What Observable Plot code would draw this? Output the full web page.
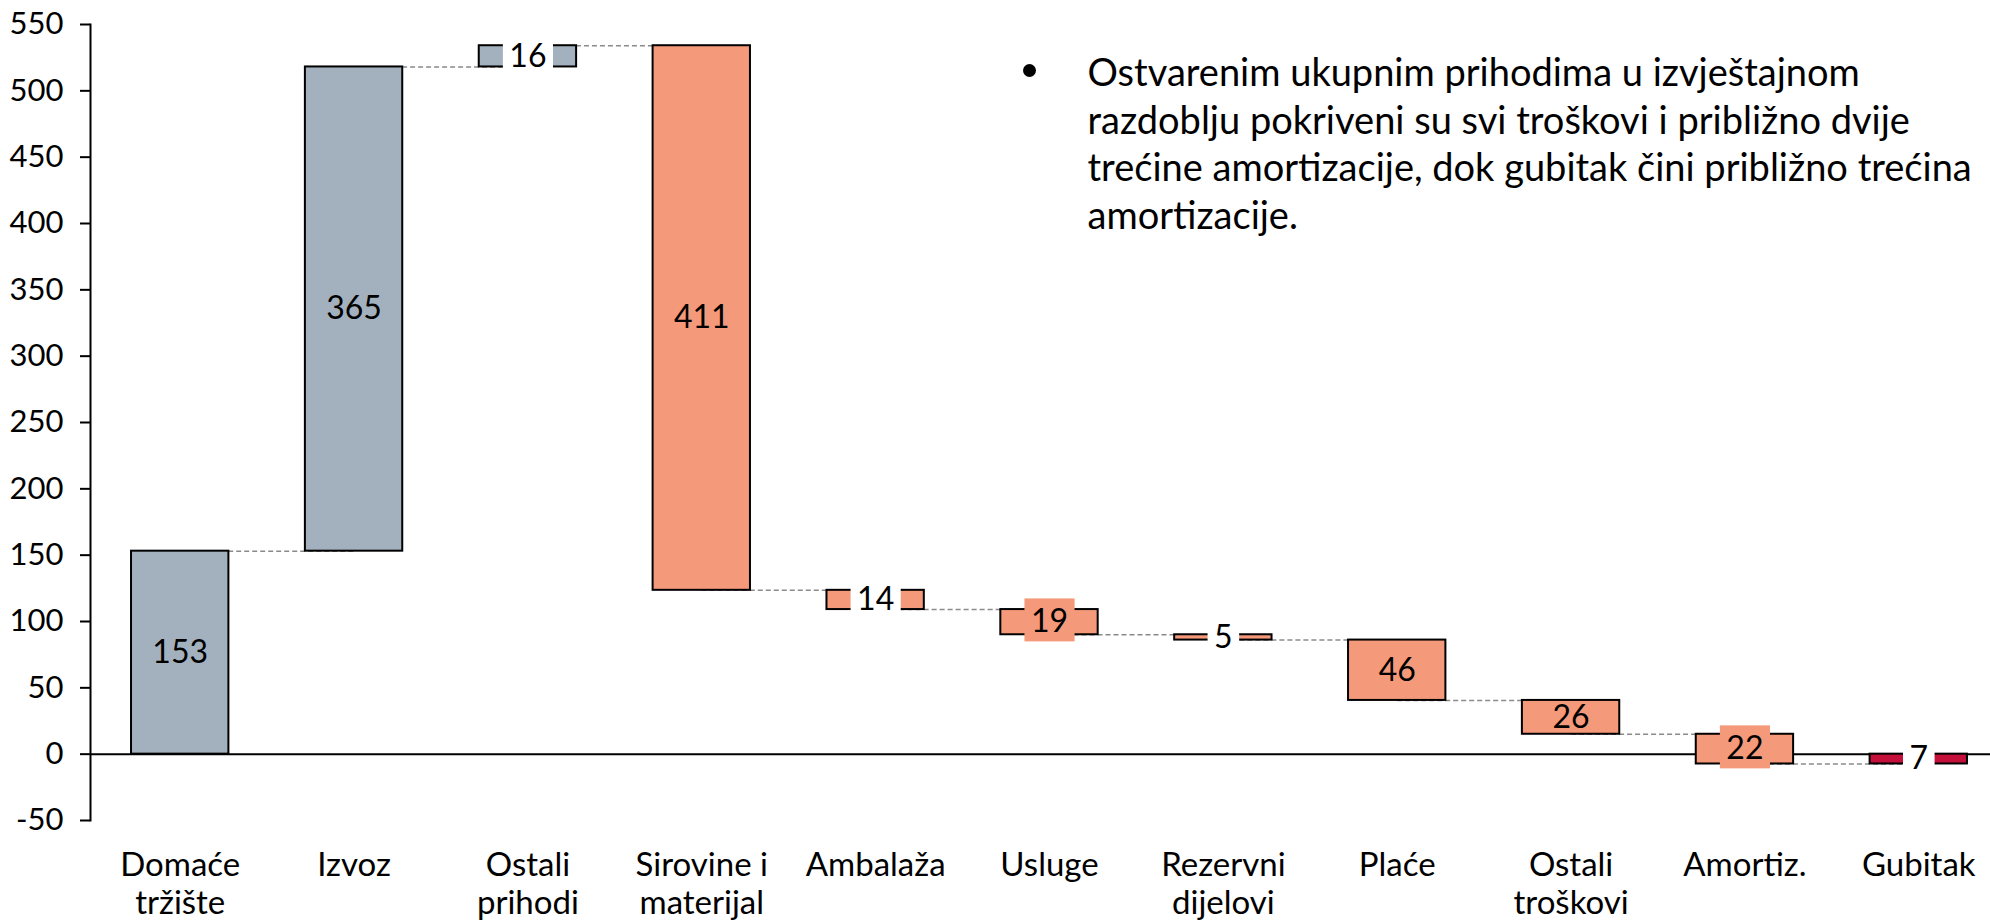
<!DOCTYPE html>
<html>
<head>
<meta charset="utf-8">
<script src="https://cdn.jsdelivr.net/npm/d3@7"></script>
<script src="https://cdn.jsdelivr.net/npm/@observablehq/plot@0.6"></script>
<style>
  html, body { margin: 0; padding: 0; background: #fff; overflow: hidden; }
  #chart { width: 1990px; height: 920px; }
</style>
</head>
<body>
<div id="chart"></div>
<script>
// ---- Data ----
const categories = ["Domaće\ntržište", "Izvoz", "Ostali\nprihodi", "Sirovine i\nmaterijal", "Ambalaža", "Usluge", "Rezervni\ndijelovi", "Plaće", "Ostali\ntroškovi", "Amortiz.", "Gubitak"];
const changes = [153, 365, 16, -410.5, -14.5, -19, -4, -45.5, -25.5, -22.4, 7.4];
const valueLabels = [153, 365, 16, 411, 14, 19, 5, 46, 26, 22, 7];
const kinds = ["prihod", "prihod", "prihod", "trošak", "trošak", "trošak", "trošak", "trošak", "trošak", "trošak", "gubitak"];
const yTicks = [-50, 0, 50, 100, 150, 200, 250, 300, 350, 400, 450, 500, 550];
const noteLines = [
  "Ostvarenim ukupnim prihodima u izvještajnom",
  "razdoblju pokriveni su svi troškovi i približno dvije",
  "trećine amortizacije, dok gubitak čini približno trećina",
  "amortizacije."
];

// ---- Styles ----
const FONT = "Lato, 'Open Sans', sans-serif";
const GREY = "#A3B1BF", SALMON = "#F4997A", CRIMSON = "#C40F3B";
const labelBoxFill = {
  "Ostali\nprihodi": "white", "Ambalaža": "white", "Rezervni\ndijelovi": "white", "Gubitak": "white",
  "Usluge": SALMON, "Amortiz.": SALMON
};

// ---- Derived waterfall rows ----
let cum = 0;
const rows = categories.map((cat, i) => {
  const start = cum;
  cum += changes[i];
  return {cat, start, end: cum, mid: (start + cum) / 2, label: String(valueLabels[i]), kind: kinds[i]};
});
const connectors = rows.slice(0, -1).map((r, i) => ({x1: r.cat, x2: rows[i + 1].cat, y: r.end}));

const plot = Plot.plot({
  width: 1990,
  height: 920,
  marginLeft: 90,
  marginRight: 0,
  marginTop: 24,
  marginBottom: 100,
  style: {fontFamily: FONT, background: "white", color: "black", overflow: "hidden"},
  x: {type: "band", domain: categories, range: [90, 2008], round: false, paddingInner: 0.44, paddingOuter: 0.236, label: null},
  y: {domain: [-50, 550], label: null},
  color: {domain: ["prihod", "trošak", "gubitak"], range: [GREY, SALMON, CRIMSON]},
  marks: [
    Plot.axisY({ticks: yTicks, tickSize: 10, tickPadding: 17, fontSize: 31, strokeWidth: 2, tickFormat: d => String(d), label: null}),
    Plot.frame({anchor: "left", strokeWidth: 2}),
    Plot.axisX({tickSize: 0, tickPadding: 29, fontSize: 33, lineHeight: 1.14, label: null}),
    Plot.ruleY([0], {stroke: "black", strokeWidth: 2}),
    Plot.link(connectors, {x1: "x1", x2: "x2", y1: "y", y2: "y", stroke: "#8a8a8a", strokeWidth: 1.5, strokeDasharray: "5,3"}),
    Plot.barY(rows, {x: "cat", y1: "start", y2: "end", fill: "kind", stroke: "black", strokeWidth: 2}),
    Plot.text(rows, {x: "cat", y: "mid", text: "label", fontSize: 32, fill: "black"}),
    Plot.dot([0], {frameAnchor: "top-left", dx: 939, dy: 46, r: 6.5, fill: "black", stroke: "none"}),
    Plot.text([noteLines.join("\n")], {frameAnchor: "top-left", dx: 997, dy: 28, textAnchor: "start", lineAnchor: "top", lineHeight: 1.25, fontSize: 38, fill: "black"})
  ]
});

document.getElementById("chart").appendChild(plot);

// Label background boxes, sized from the rendered text
const svgns = "http://www.w3.org/2000/svg";
const labelGroup = Array.from(plot.querySelectorAll("g")).find(g => {
  const ts = g.querySelectorAll(":scope > text");
  return ts.length === rows.length && ts[0].textContent === rows[0].label;
});
if (labelGroup) {
  labelGroup.querySelectorAll(":scope > text").forEach((t, i) => {
    const f = labelBoxFill[rows[i].cat];
    if (!f) return;
    const bb = t.getBBox();
    const r = document.createElementNS(svgns, "rect");
    r.setAttribute("x", bb.x - 6.5);
    r.setAttribute("y", bb.y - 2);
    r.setAttribute("width", bb.width + 13);
    r.setAttribute("height", bb.height + 4);
    r.setAttribute("fill", f);
    r.setAttribute("stroke", "none");
    const tr = t.getAttribute("transform");
    if (tr) r.setAttribute("transform", tr);
    labelGroup.insertBefore(r, t);
  });
}
</script>
</body>
</html>
